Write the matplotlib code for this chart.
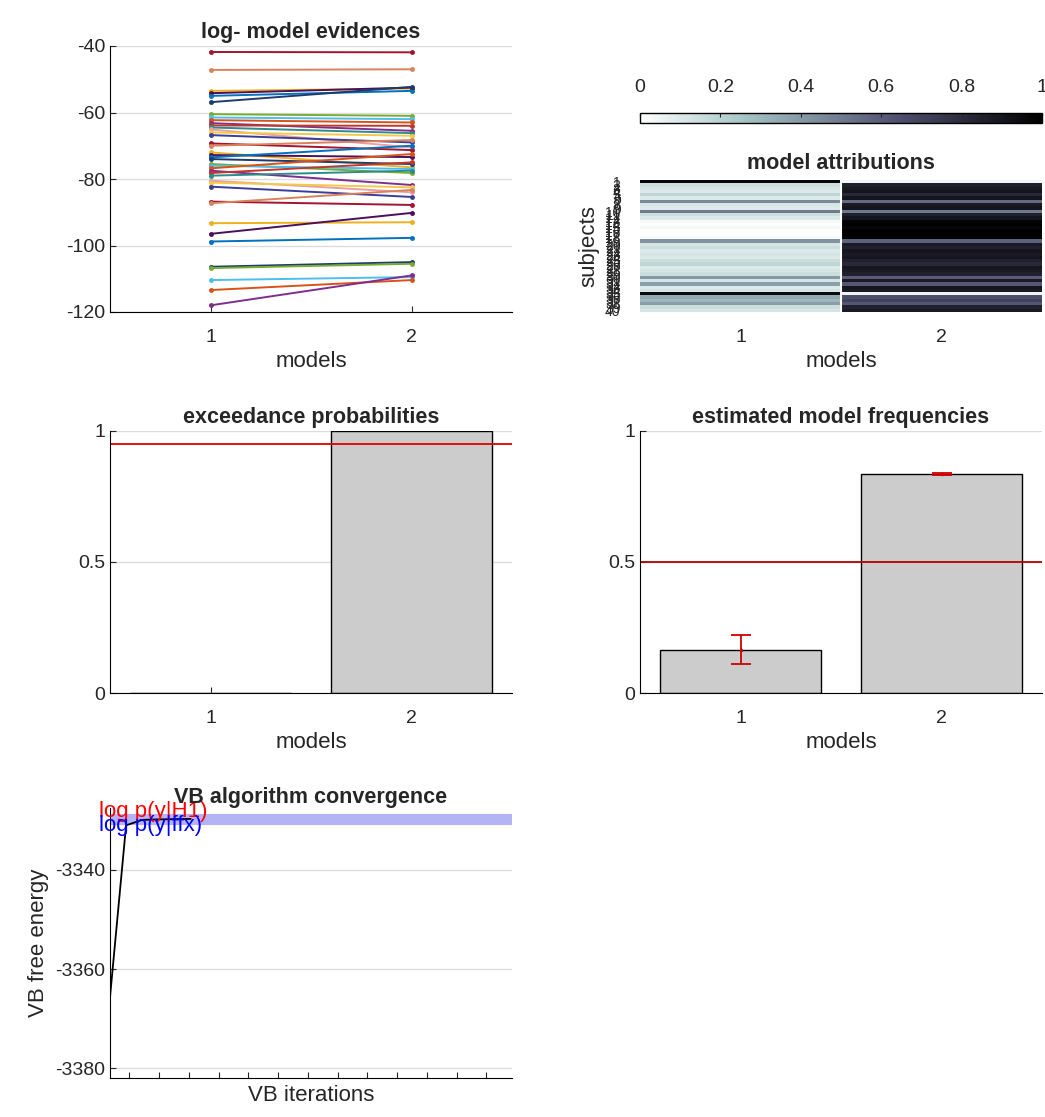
import numpy as np
import matplotlib
matplotlib.use("Agg")
import matplotlib.pyplot as plt

plt.rcParams['font.family'] = ['Liberation Sans', 'DejaVu Sans']
plt.rcParams['axes.unicode_minus'] = False
plt.rcParams['text.color'] = '#262626'
plt.rcParams['axes.labelcolor'] = '#262626'
plt.rcParams['xtick.color'] = '#262626'
plt.rcParams['ytick.color'] = '#262626'

# log model evidences per subject (model 1, model 2)
L1 = [-41.8, -47.2, -53.5, -54.2, -55.0, -56.9, -60.5, -61.5, -62.3, -63.2,
      -63.9, -64.5, -65.1, -66.0, -66.8, -69.3, -70.0, -72.0, -72.8, -73.5,
      -74.0, -75.5, -76.0, -76.8, -77.5, -78.2, -79.0, -80.5, -81.1, -82.3,
      -86.8, -87.3, -93.3, -96.5, -98.8, -106.4, -106.8, -110.4, -113.4, -118.0]
L2 = [-41.9, -47.0, -52.8, -52.5, -53.5, -52.3, -61.0, -62.0, -63.0, -65.5,
      -64.0, -66.2, -70.5, -67.0, -69.0, -71.3, -68.3, -76.5, -73.4, -70.0,
      -75.5, -78.2, -77.0, -72.5, -81.8, -75.0, -77.5, -84.0, -82.5, -85.4,
      -87.8, -83.3, -93.0, -90.2, -97.7, -105.0, -105.5, -109.5, -110.4, -109.0]

# posterior probability of model 1 for each subject
p_model1 = [0.97, 0.15, 0.12, 0.10, 0.18, 0.10, 0.45, 0.12, 0.10, 0.50,
            0.15, 0.10, 0.02, 0.01, 0.03, 0.00, 0.01, 0.02, 0.42, 0.12,
            0.15, 0.10, 0.12, 0.10, 0.15, 0.18, 0.10, 0.12, 0.15, 0.40,
            0.12, 0.38, 0.10, 0.12, 0.95, 0.35, 0.30, 0.38, 0.15, 0.12]

models = [1, 2]
exc_prob = [0.0004, 0.9996]
freq = [0.165, 0.835]
freq_err = [0.055, 0.003]

vb_iter = [1, 2, 3, 4, 5, 6]
vb_F = [-3365.7, -3331.0, -3329.9, -3329.8, -3329.75, -3329.7]
F_H1 = -3329.7
F_ffx = -3329.7

line_colors = ['#a2142f', '#d9825b', '#edb120', '#4b0f5c', '#0072bd', '#1f3a6e',
               '#77ac30', '#4dbeee', '#d95319', '#7e2f8e', '#c0392b', '#2e8b8b',
               '#e8a0a0', '#f2c94c', '#3d3d99']

W, H = 1045, 1117
fig = plt.figure(figsize=(W / 100, H / 100), dpi=100)


def box(l, t, r, b):
    return [l / W, 1 - b / H, (r - l) / W, (b - t) / H]


def style(ax, grid=True):
    for s in ['top', 'right']:
        ax.spines[s].set_visible(False)
    ax.tick_params(direction='in', labelsize=14, length=4)
    ax.tick_params(axis='x', pad=12)
    if grid:
        ax.yaxis.grid(True, color='#dcdcdc', lw=1)
        ax.set_axisbelow(True)


TFS = 15.5
LFS = 16

# log model evidences
ax1 = fig.add_axes(box(110, 46, 512, 312))
for i in range(len(L1)):
    c = line_colors[i % len(line_colors)]
    ax1.plot(models, [L1[i], L2[i]], color=c, lw=1.4, marker='.', ms=5)
ax1.set_xlim(0.5, 2.5)
ax1.set_ylim(-120, -40)
ax1.set_xticks(models)
ax1.set_yticks([-120, -100, -80, -60, -40])
ax1.set_title('log- model evidences', fontsize=TFS, fontweight='bold', pad=6)
ax1.set_xlabel('models', fontsize=LFS)
style(ax1)

# model attributions
att = np.column_stack([p_model1, 1 - np.array(p_model1)])
ax2 = fig.add_axes(box(640, 180, 1042, 312))
n = len(p_model1)
im = ax2.imshow(att, cmap='bone_r', vmin=0, vmax=1, aspect='auto',
                extent=(0.5, 2.5, n + 0.5, 0.5), interpolation='nearest')
ax2.axvline(1.5, color='white', lw=1.5)
ax2.set_xticks(models)
ax2.set_yticks(range(1, n + 1))
ax2.set_yticklabels([str(k) for k in range(1, n + 1)], fontsize=10)
ax2.tick_params(axis='y', pad=14, length=0)
ax2.tick_params(axis='x', direction='in', labelsize=14, pad=12, length=0)
ax2.set_title('model attributions', fontsize=TFS, fontweight='bold', pad=8)
ax2.set_xlabel('models', fontsize=LFS)
ax2.set_ylabel('subjects', fontsize=LFS, labelpad=4)
for s in ['top', 'right', 'left', 'bottom']:
    ax2.spines[s].set_visible(False)

cax = fig.add_axes(box(640, 113, 1042, 123))
cb = fig.colorbar(im, cax=cax, orientation='horizontal')
cax.xaxis.set_ticks_position('top')
cax.xaxis.set_label_position('top')
cb.set_ticks([0, 0.2, 0.4, 0.6, 0.8, 1])
cb.set_ticklabels(['0', '0.2', '0.4', '0.6', '0.8', '1'])
cax.tick_params(direction='in', labelsize=14, length=3, pad=12)
cb.outline.set_linewidth(1)

# exceedance probabilities
ax3 = fig.add_axes(box(110, 431, 512, 693))
ax3.bar(models, exc_prob, width=0.8, color='#cccccc', edgecolor='black', lw=1)
ax3.axhline(0.95, color='#e00000', lw=1.3)
ax3.set_xlim(0.5, 2.5)
ax3.set_ylim(0, 1)
ax3.set_xticks(models)
ax3.set_yticks([0, 0.5, 1])
ax3.set_yticklabels(['0', '0.5', '1'])
ax3.set_title('exceedance probabilities', fontsize=TFS, fontweight='bold', pad=6)
ax3.set_xlabel('models', fontsize=LFS)
style(ax3)

# estimated model frequencies
ax4 = fig.add_axes(box(640, 431, 1042, 693))
ax4.bar(models, freq, width=0.8, color='#cccccc', edgecolor='black', lw=1)
ax4.errorbar(models, freq, yerr=freq_err, fmt='.', color='#d00000',
             ms=3, capsize=7, elinewidth=1.3, capthick=1.3)
ax4.axhline(0.5, color='#b00000', lw=1.3)
ax4.set_xlim(0.5, 2.5)
ax4.set_ylim(0, 1)
ax4.set_xticks(models)
ax4.set_yticks([0, 0.5, 1])
ax4.set_yticklabels(['0', '0.5', '1'])
ax4.set_title('estimated model frequencies', fontsize=TFS, fontweight='bold', pad=6)
ax4.set_xlabel('models', fontsize=LFS)
style(ax4)

# VB convergence
ax5 = fig.add_axes(box(110, 808, 512, 1078))
ax5.axhline(F_ffx, color='#b3b3f5', lw=8)
ax5.axhline(F_H1, color='#b3b3f5', lw=1)
ax5.plot(vb_iter, vb_F, color='black', lw=1.3)
ax5.set_xlim(1, 26)
ax5.set_ylim(-3382, -3327.5)
ax5.set_yticks([-3380, -3360, -3340])
ax5.set_xticks(np.arange(2.2, 26, 1.85))
ax5.set_xticklabels([])
ax5.text(0.3, F_H1 + 1.4, 'log p(y|H1)', color='red', fontsize=LFS,
         va='center', ha='left', clip_on=False)
ax5.text(0.3, F_ffx - 1.4, 'log p(y|ffx)', color='blue', fontsize=LFS,
         va='center', ha='left', clip_on=False)
ax5.set_title('VB algorithm convergence', fontsize=TFS, fontweight='bold', pad=2)
style(ax5)
ax5.tick_params(axis='x', pad=1)
ax5.set_xlabel('VB iterations', fontsize=LFS, labelpad=4)
ax5.set_ylabel('VB free energy', fontsize=LFS)

fig.savefig('out.png', dpi=100)
